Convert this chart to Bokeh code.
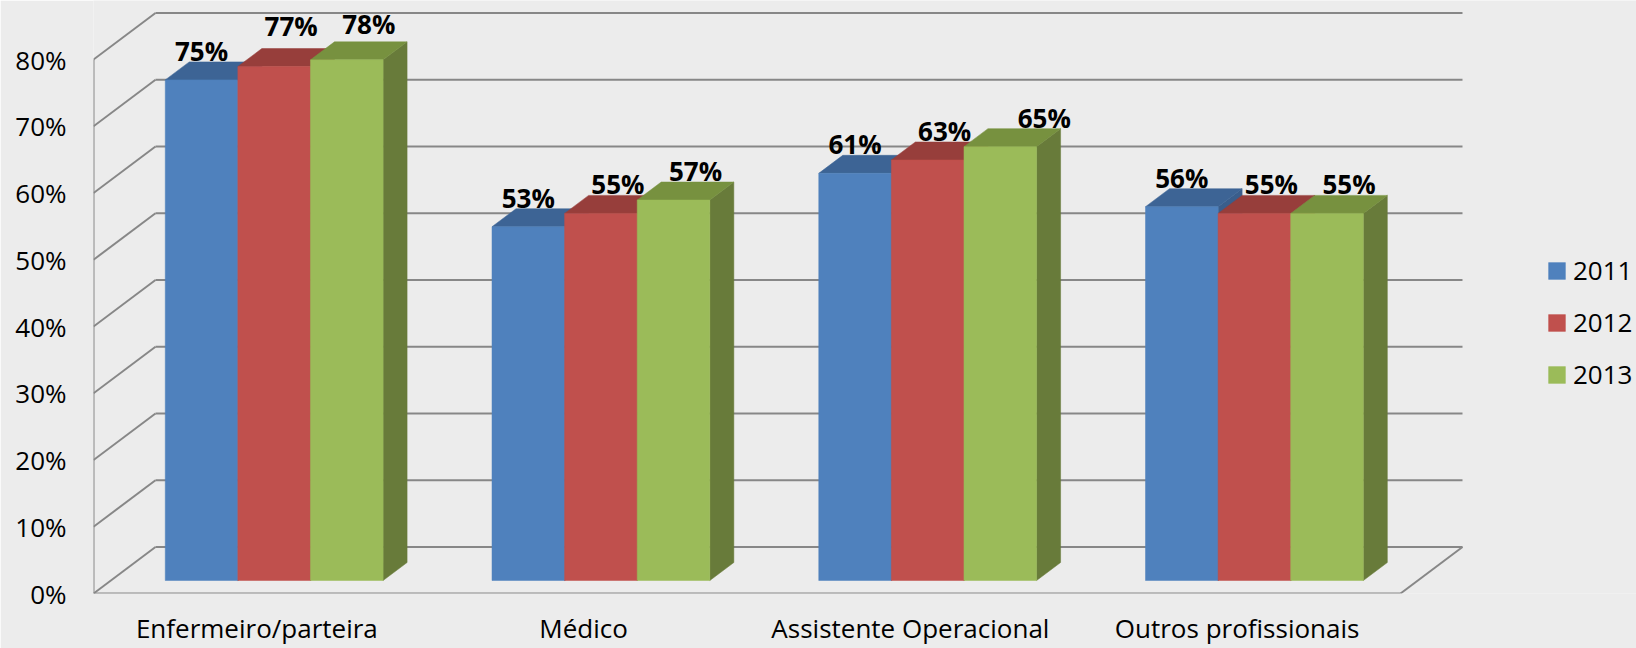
from bokeh.plotting import figure
from bokeh.models import Range1d, FixedTicker, PrintfTickFormatter, Legend, LegendItem
from bokeh.embed import file_html
from bokeh.resources import INLINE
from bokeh.core.properties import value

# ---------------- data ----------------
categories = ["Enfermeiro/parteira", "Médico", "Assistente Operacional", "Outros profissionais"]
years = ["2011", "2012", "2013"]
v2011 = [75, 53, 61, 56]
v2012 = [77, 55, 63, 55]
v2013 = [78, 57, 65, 55]
y_ticks = [0, 10, 20, 30, 40, 50, 60, 70, 80]

series = [v2011, v2012, v2013]
front_colors = ["#4F81BD", "#C0504D", "#9BBB59"]
top_colors = ["#3D6495", "#973E3B", "#77913F"]
side_colors = ["#3A5E8C", "#8E3A38", "#687B3A"]
grid_color = "#878787"
bg = "#ececec"
FONT = "Open Sans"

# label placement style (screen px): per-series x shift, and a few nudges
label_dx = [0, 17, 22]
label_nudge = {(0, 1): (0, -12), (0, 2): (0, -7), (2, 2): (22, 0)}

# ---------------- geometry (pixels) ----------------
W, H = 1636, 648
BL, BB = 93, 55            # left / bottom borders
FW, FH = W - BL, H - BB    # frame size
PX_X = 326.75              # pixels per category (front plane)
PX_Y = 6.675               # pixels per percent
def ox(px): return px / PX_X
def oy(px): return px / PX_Y

BAR_DX, BAR_DY = 17.3, 13.0     # bar front plane offset
DEP_DX, DEP_DY = 24.0, 18.0     # bar depth
BACK_DX, BACK_DY = 62.0, 46.5   # back wall offset

p = figure(width=W, height=H, output_backend="svg", toolbar_location=None,
           x_range=Range1d(0, FW / PX_X), y_range=Range1d(0, FH / PX_Y),
           min_border_left=BL, min_border_bottom=BB, min_border_top=0, min_border_right=0,
           background_fill_color=bg, border_fill_color=bg, outline_line_color=None)
p.xgrid.visible = False
p.ygrid.visible = False

# ---------------- walls / gridlines ----------------
n = len(categories)
gx0, gy0, gx1, gy1 = [], [], [], []
for t in y_ticks:
    gx0.append(ox(BACK_DX)); gy0.append(t + oy(BACK_DY))
    gx1.append(n + ox(BACK_DX)); gy1.append(t + oy(BACK_DY))
    gx0.append(0); gy0.append(t)
    gx1.append(ox(BACK_DX)); gy1.append(t + oy(BACK_DY))
gx0.append(0); gy0.append(0); gx1.append(0); gy1.append(y_ticks[-1])
gx0.append(0); gy0.append(0); gx1.append(n); gy1.append(0)
gx0.append(n); gy0.append(0); gx1.append(n + ox(BACK_DX)); gy1.append(oy(BACK_DY))
p.segment(x0=gx0, y0=gy0, x1=gx1, y1=gy1, line_color=grid_color, line_width=2)

# ---------------- 3D bars ----------------
bw = 1 / 4.5
dx, dy = ox(DEP_DX), oy(DEP_DY)
side_xs, side_ys, side_c = [], [], []
tops = []
front = {s: ([], []) for s in range(3)}
lx, ly, ltxt, lxo, lyo = [], [], [], [], []
for i in range(n):
    for s in range(3):
        v = series[s][i]
        x0 = i + (0.75 + s) * bw + ox(BAR_DX)
        x1 = x0 + bw
        y0 = oy(BAR_DY)
        y1 = v + oy(BAR_DY)
        side_xs.append([x1, x1 + dx, x1 + dx, x1]); side_ys.append([y0, y0 + dy, y1 + dy, y1]); side_c.append(side_colors[s])
        tops.append((v, [x0, x1, x1 + dx, x0 + dx], [y1, y1, y1 + dy, y1 + dy], top_colors[s]))
        front[s][0].append([x0, x1, x1, x0]); front[s][1].append([y0, y0, y1, y1])
        nx, ny = label_nudge.get((i, s), (0, 0))
        lx.append((x0 + x1) / 2); ly.append(y1); ltxt.append(f"{v}%")
        lxo.append(label_dx[s] + nx); lyo.append(-29 + ny)

p.patches(xs=side_xs, ys=side_ys, fill_color=side_c, line_color=side_c, line_width=0.5)
tops.sort(key=lambda t: t[0])
p.patches(xs=[t[1] for t in tops], ys=[t[2] for t in tops],
          fill_color=[t[3] for t in tops], line_color=[t[3] for t in tops], line_width=0.5)
front_r = []
for s in range(3):
    r = p.patches(xs=front[s][0], ys=front[s][1], fill_color=front_colors[s],
                  line_color=front_colors[s], line_width=0.5)
    front_r.append(r)

p.text(x=lx, y=ly, text=ltxt, x_offset=lxo, y_offset=lyo,
       text_font=value(FONT), text_font_size="26px", text_font_style="bold",
       text_align="center", text_baseline="middle", text_color="black")

# ---------------- axes ----------------
ya = p.yaxis[0]
ya.ticker = FixedTicker(ticks=y_ticks)
ya.formatter = PrintfTickFormatter(format="%d%%")
ya.axis_line_color = None
ya.major_tick_line_color = None
ya.minor_tick_line_color = None
ya.major_tick_out = 0
ya.major_tick_in = 0
ya.major_label_standoff = 27
ya.major_label_text_font = FONT
ya.major_label_text_font_size = "26px"
ya.major_label_text_color = "black"

xa = p.xaxis[0]
xa.ticker = FixedTicker(ticks=[i + 0.5 for i in range(n)])
xa.major_label_overrides = {i + 0.5: c for i, c in enumerate(categories)}
xa.axis_line_color = None
xa.major_tick_line_color = None
xa.minor_tick_line_color = None
xa.major_tick_out = 0
xa.major_tick_in = 0
xa.major_label_standoff = 16
xa.major_label_text_line_height = 1.0
xa.major_label_text_font = FONT
xa.major_label_text_font_size = "26px"
xa.major_label_text_color = "black"

# ---------------- legend ----------------
items = [LegendItem(label=years[s], renderers=[front_r[s]]) for s in range(3)]
legend = Legend(items=items, location=(1453, 201), glyph_width=21, glyph_height=21,
                label_standoff=6, spacing=16, label_height=30, padding=0, margin=0,
                border_line_color=None, background_fill_alpha=0,
                label_text_font=FONT, label_text_font_size="26px", label_text_color="black")
p.add_layout(legend)

open("out.html", "w").write(file_html(p, INLINE))
